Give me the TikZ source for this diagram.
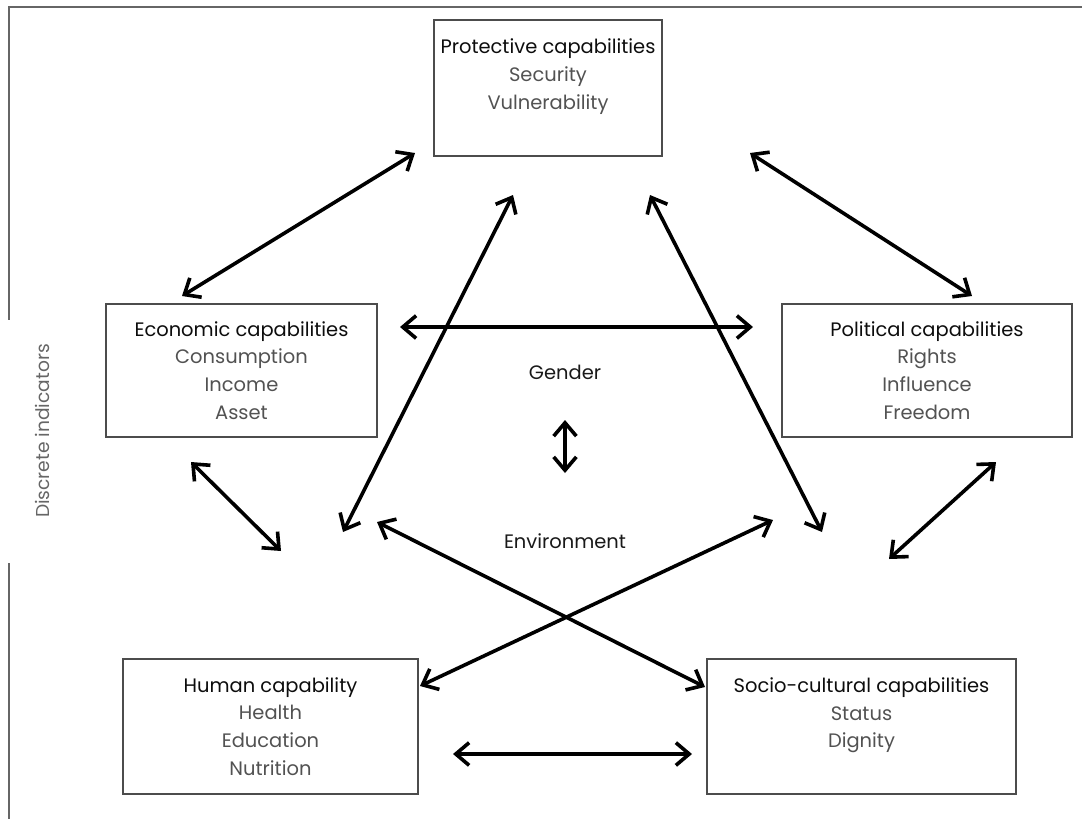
\documentclass[tikz,border=0pt]{standalone}
\usepackage{fontspec}
\setmainfont{Poppins}
\usepackage{xcolor}
\usepackage{tikz}
\usetikzlibrary{arrows.meta}

\newcommand{\captitle}[1]{\textcolor{black!95}{#1}}

\begin{document}
\begin{tikzpicture}[x=0.75pt, y=-0.75pt,
        capbox/.style={draw=black!70, line width=1.1pt, align=center, inner sep=0pt,
            font=\fontsize{14.6}{20.8}\selectfont, text=black!68},
        link/.style={line width=2.7pt, {Straight Barb[length=10pt,width=17pt]}-{Straight Barb[length=10pt,width=17pt]}}]
        \useasboundingbox (0,0) rectangle (1082,819);
        \draw[black!60, line width=1.2pt] (1082,7) -- (9,7) -- (9,320);
        \draw[black!60, line width=1.2pt] (9,563) -- (9,819);
        \node[rotate=90, text=black!60, font=\fontsize{14}{16}\selectfont] (disc) at (42,431) {Discrete indicators};

        \node[capbox, minimum width=171pt, minimum height=102pt] (prot) at (548,88)
            {\captitle{Protective capabilities}\\Security\\Vulnerability\\\mbox{}};
        \node[capbox, minimum width=203.25pt, minimum height=99.75pt] (eco) at (241.5,370.5)
            {\captitle{Economic capabilities}\\Consumption\\Income\\Asset};
        \node[capbox, minimum width=217.5pt, minimum height=99.75pt] (pol) at (927,370.5)
            {\captitle{Political capabilities}\\Rights\\Influence\\Freedom};
        \node[capbox, minimum width=221.25pt, minimum height=101.25pt] (hum) at (270.5,726.5)
            {\captitle{Human capability}\\Health\\Education\\Nutrition};
        \node[capbox, minimum width=231.75pt, minimum height=101.25pt] (soc) at (861.5,726.5)
            {\captitle{Socio-cultural capabilities}\\Status\\Dignity\\\mbox{}};

        \node[font=\fontsize{14.6}{16}\selectfont, text=black!90] (gen) at (565,372) {Gender};
        \node[font=\fontsize{14.6}{16}\selectfont, text=black!90] (env) at (565,541) {Environment};

        \coordinate (eco-prot) at (182,296);  \coordinate (prot-eco) at (415,153);
        \coordinate (prot-pol) at (750,153);  \coordinate (pol-prot) at (972,296);
        \coordinate (eco-pol) at (400,327);   \coordinate (pol-eco) at (753,327);
        \coordinate (prot-hum) at (513,195);  \coordinate (hum-prot) at (343,532);
        \coordinate (prot-soc) at (650,195);  \coordinate (soc-prot) at (822,532);
        \coordinate (eco-hum) at (191,462);   \coordinate (hum-eco) at (281,551);
        \coordinate (pol-soc) at (996,462);   \coordinate (soc-pol) at (889,559);
        \coordinate (eco-soc) at (377,522);   \coordinate (soc-eco) at (705,687);
        \coordinate (pol-hum) at (773,520);   \coordinate (hum-pol) at (420,686);
        \coordinate (hum-soc) at (453,754);   \coordinate (soc-hum) at (692,754);
        \coordinate (gen-env) at (565,420);   \coordinate (env-gen) at (565,473);

        \draw[link] (eco-prot) -- (prot-eco);
        \draw[link] (prot-pol) -- (pol-prot);
        \draw[link] (eco-pol) -- (pol-eco);
        \draw[link] (prot-hum) -- (hum-prot);
        \draw[link] (prot-soc) -- (soc-prot);
        \draw[link] (eco-hum) -- (hum-eco);
        \draw[link] (pol-soc) -- (soc-pol);
        \draw[link] (eco-soc) -- (soc-eco);
        \draw[link] (pol-hum) -- (hum-pol);
        \draw[link] (hum-soc) -- (soc-hum);
        \draw[link] (gen-env) -- (env-gen);
    \end{tikzpicture}
\end{document}
